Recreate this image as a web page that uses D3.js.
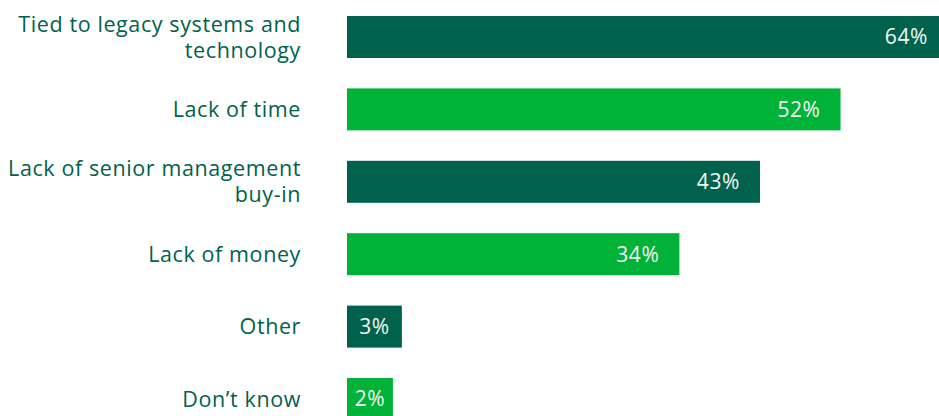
<!DOCTYPE html>
<html>
<head>
<meta charset="utf-8">
<script src="https://cdn.jsdelivr.net/npm/d3@7"></script>
<style>
  html, body { margin: 0; padding: 0; background: #ffffff; }
  svg { display: block; }
  text { font-family: "Open Sans", "Noto Sans", sans-serif; }
</style>
</head>
<body>
<div id="chart"></div>
<script>
// Barriers to change — share of respondents (%)
const categories = [
  "Tied to legacy systems and\ntechnology",
  "Lack of time",
  "Lack of senior management\nbuy-in",
  "Lack of money",
  "Other",
  "Don\u2019t know"
];
const values = [64, 52, 43, 34, 3, 2];
const valueLabels = values.map(v => v + "%");

const width = 939, height = 416;
const darkGreen = "#00624c";
const brightGreen = "#00b238";
const barColors = [darkGreen, brightGreen];

const svg = d3.select("#chart").append("svg")
  .attr("width", width)
  .attr("height", height);

const barLeft = 347;

const y = d3.scaleBand()
  .domain(categories)
  .range([16, 420])
  .paddingInner(0.42)
  .paddingOuter(0);

// bar lengths keep a small base so the value label always fits inside
const x = d3.scaleLinear()
  .domain([0, 64])
  .range([barLeft + 28, barLeft + 601]);

const rows = svg.selectAll("g.row")
  .data(categories.map((c, i) => ({ c, v: values[i], label: valueLabels[i], i })))
  .join("g")
  .attr("class", "row");

rows.append("rect")
  .attr("x", barLeft)
  .attr("y", d => y(d.c))
  .attr("height", y.bandwidth())
  .attr("width", d => x(d.v) - barLeft)
  .attr("fill", d => barColors[d.i % 2]);

// value labels, right-aligned inside the bar
rows.append("text")
  .attr("y", d => y(d.c) + y.bandwidth() / 2)
  .attr("dy", "0.35em")
  .attr("text-anchor", "end")
  .attr("fill", "#f4f7f2")
  .style("font-size", "21px")
  .style("letter-spacing", "0.6px")
  .text(d => d.label)
  .each(function(d) {
    const tw = this.getComputedTextLength();
    const w = x(d.v) - barLeft;
    const pad = Math.min(20, (w - tw) / 2);
    d3.select(this).attr("x", x(d.v) - pad);
  });

// category labels, right-aligned left of the bars
const lineH = 26;
rows.append("text")
  .attr("text-anchor", "end")
  .attr("fill", darkGreen)
  .style("font-size", "21.5px")
  .style("letter-spacing", "0.6px")
  .each(function(d) {
    const lines = d.c.split("\n");
    const cy = y(d.c) + y.bandwidth() / 2;
    const t = d3.select(this);
    lines.forEach((ln, k) => {
      t.append("tspan")
        .attr("x", 301)
        .attr("y", cy + (k - (lines.length - 1) / 2) * lineH)
        .attr("dy", "0.35em")
        .text(ln);
    });
  });
</script>
</body>
</html>
